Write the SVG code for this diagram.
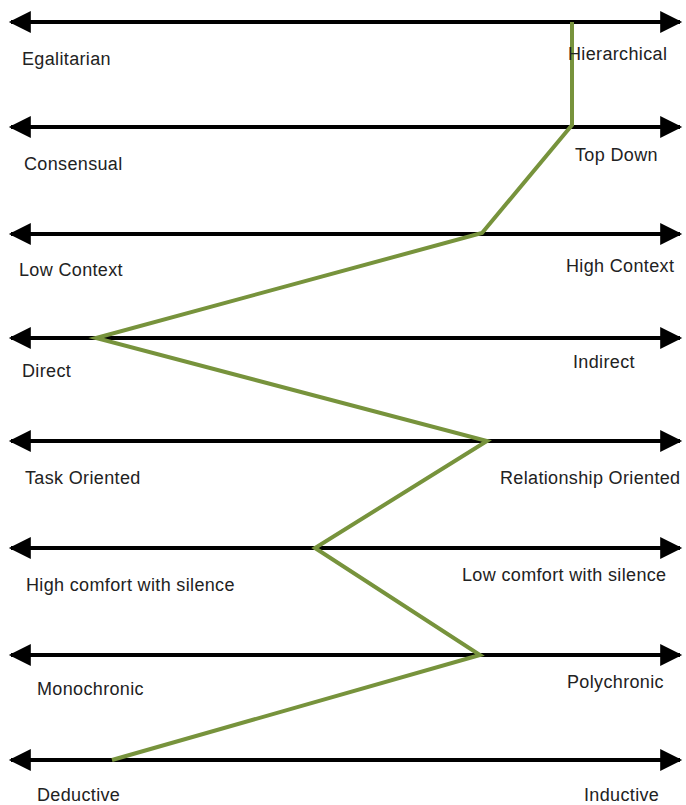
<svg xmlns="http://www.w3.org/2000/svg" width="686" height="805" viewBox="0 0 686 805">
<style>
.axis{stroke:#000;stroke-width:4;fill:none}
.head{fill:#000}
.lbl{font-family:"Liberation Sans",Arial,sans-serif;font-size:18px;letter-spacing:0.35px;fill:#222}
.profile{stroke:#77933C;stroke-width:4;fill:none;stroke-linejoin:miter}
</style>
<defs>
<marker id="ah" viewBox="0 0 10 10" refX="9" refY="5" markerWidth="6" markerHeight="5.5" markerUnits="strokeWidth" orient="auto-start-reverse">
<path class="head" d="M0,0 L10,5 L0,10 Z"/>
</marker>
</defs>
<g id="connectors">
<line class="axis" x1="11" y1="22" x2="680" y2="22" marker-start="url(#ah)" marker-end="url(#ah)"/>
<line class="axis" x1="11" y1="127" x2="680" y2="127" marker-start="url(#ah)" marker-end="url(#ah)"/>
<line class="axis" x1="11" y1="234" x2="680" y2="234" marker-start="url(#ah)" marker-end="url(#ah)"/>
<line class="axis" x1="11" y1="338" x2="680" y2="338" marker-start="url(#ah)" marker-end="url(#ah)"/>
<line class="axis" x1="11" y1="441" x2="680" y2="441" marker-start="url(#ah)" marker-end="url(#ah)"/>
<line class="axis" x1="11" y1="548" x2="680" y2="548" marker-start="url(#ah)" marker-end="url(#ah)"/>
<line class="axis" x1="11" y1="655" x2="680" y2="655" marker-start="url(#ah)" marker-end="url(#ah)"/>
<line class="axis" x1="11" y1="760" x2="680" y2="760" marker-start="url(#ah)" marker-end="url(#ah)"/>
<polyline class="profile" points="572,22 572,125 482,233 96,338 487,441 315,548 480,655 112,760"/>
</g>
<g id="row1"><text class="lbl" x="22" y="65">Egalitarian</text><text class="lbl" x="568" y="60">Hierarchical</text></g>
<g id="row2"><text class="lbl" x="24" y="170">Consensual</text><text class="lbl" x="575" y="161">Top Down</text></g>
<g id="row3"><text class="lbl" x="19" y="276">Low Context</text><text class="lbl" x="566" y="272">High Context</text></g>
<g id="row4"><text class="lbl" x="22" y="377">Direct</text><text class="lbl" x="573" y="368">Indirect</text></g>
<g id="row5"><text class="lbl" x="25" y="484">Task Oriented</text><text class="lbl" x="500" y="484">Relationship Oriented</text></g>
<g id="row6"><text class="lbl" x="26" y="591">High comfort with silence</text><text class="lbl" x="462" y="581">Low comfort with silence</text></g>
<g id="row7"><text class="lbl" x="37" y="695">Monochronic</text><text class="lbl" x="567" y="688">Polychronic</text></g>
<g id="row8"><text class="lbl" x="37" y="801">Deductive</text><text class="lbl" x="584" y="801">Inductive</text></g>
</svg>
